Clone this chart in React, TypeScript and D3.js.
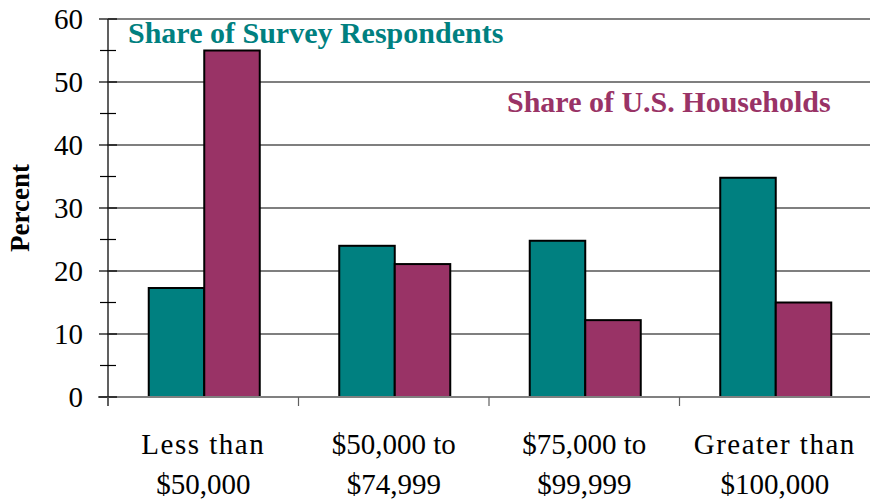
import React from "react";
import * as d3 from "d3";

const categories = [["Less than", "$50,000"], ["$50,000 to", "$74,999"], ["$75,000 to", "$99,999"], ["Greater than", "$100,000"]];
const surveyRespondents = [17.3, 24.0, 24.8, 34.8];
const usHouseholds = [55.0, 21.1, 12.2, 15.0];
const yMajorTicks = [0, 10, 20, 30, 40, 50, 60];
const yMinorTicks = [5, 15, 25, 35, 45, 55];
const seriesNames = ["Share of Survey Respondents", "Share of U.S. Households"];

const W = 870, H = 501;
const M = { left: 108, right: 870, top: 19, bottom: 397 };
const TEAL = "#008080";
const MAROON = "#993366";
const FONT = "'Liberation Serif', 'Times New Roman', serif";

export default function App() {
  const x = d3.scaleBand<number>().domain(d3.range(categories.length)).range([M.left, M.right]).paddingInner(0).paddingOuter(0);
  const inner = d3.scaleBand<number>().domain([0, 1]).range([0, x.bandwidth()]).paddingInner(0).paddingOuter(0.716);
  const y = d3.scaleLinear().domain([0, 60]).range([M.bottom, M.top]);
  const series = [surveyRespondents, usHouseholds];
  const colors = [TEAL, MAROON];
  return (
    <svg width={W} height={H} style={{ position: "absolute", left: 0, top: 0 }} fontFamily={FONT}>
      <rect width={W} height={H} fill="#fff" />
      {yMajorTicks.filter(t => t > 0 && t < 60).map(t => (
        <line key={"g" + t} x1={M.left} x2={M.right} y1={y(t)} y2={y(t)} stroke="#000" strokeWidth={1.2} />
      ))}
      <line x1={M.left} x2={M.right} y1={y(60)} y2={y(60)} stroke="#808080" strokeWidth={2} />
      {series.map((vals, si) =>
        vals.map((v, i) => (
          <rect key={si + "-" + i} x={(x(i) as number) + (inner(si) as number) + 1} y={y(v)} width={inner.bandwidth()} height={y(0) - y(v)} fill={colors[si]} stroke="#000" strokeWidth={2} />
        ))
      )}
      <line x1={M.left - 10} x2={M.right} y1={y(0)} y2={y(0)} stroke="#808080" strokeWidth={2} />
      <line x1={M.left} x2={M.left} y1={M.top} y2={M.bottom + 9} stroke="#606060" strokeWidth={2} />
      {yMajorTicks.map(t => (
        <g key={"t" + t}>
          <line x1={M.left - 9} x2={M.left + 9} y1={y(t)} y2={y(t)} stroke="#000" strokeWidth={1.2} />
          <text x={83} y={y(t)} dy="0.34em" textAnchor="end" fontSize={29} fill="#000">{t}</text>
        </g>
      ))}
      {yMinorTicks.map(t => (
        <line key={"m" + t} x1={M.left - 8} x2={M.left + 8} y1={y(t)} y2={y(t)} stroke="#000" strokeWidth={1.2} />
      ))}
      {d3.range(categories.length).map(i => (
        <line key={"xt" + i} x1={x(i) as number} x2={x(i) as number} y1={M.bottom} y2={M.bottom + 9} stroke="#606060" strokeWidth={1.2} />
      ))}
      {categories.map((c, i) => {
        const cx = (x(i) as number) + x.bandwidth() / 2;
        return (
          <text key={"c" + i} textAnchor="middle" fontSize={29} fill="#000">
            <tspan x={cx} y={454} letterSpacing={c[0].includes("$") ? 0 : 1.5}>{c[0]}</tspan>
            <tspan x={cx} y={494}>{c[1]}</tspan>
          </text>
        );
      })}
      <text transform={`translate(29,208) rotate(-90)`} textAnchor="middle" fontSize={27} fontWeight="bold" fill="#000">Percent</text>
      <text x={128} y={43} fontSize={30} fontWeight="bold" fill={TEAL}>{seriesNames[0]}</text>
      <text x={507} y={112} fontSize={30} fontWeight="bold" fill={MAROON}>{seriesNames[1]}</text>
    </svg>
  );
}
